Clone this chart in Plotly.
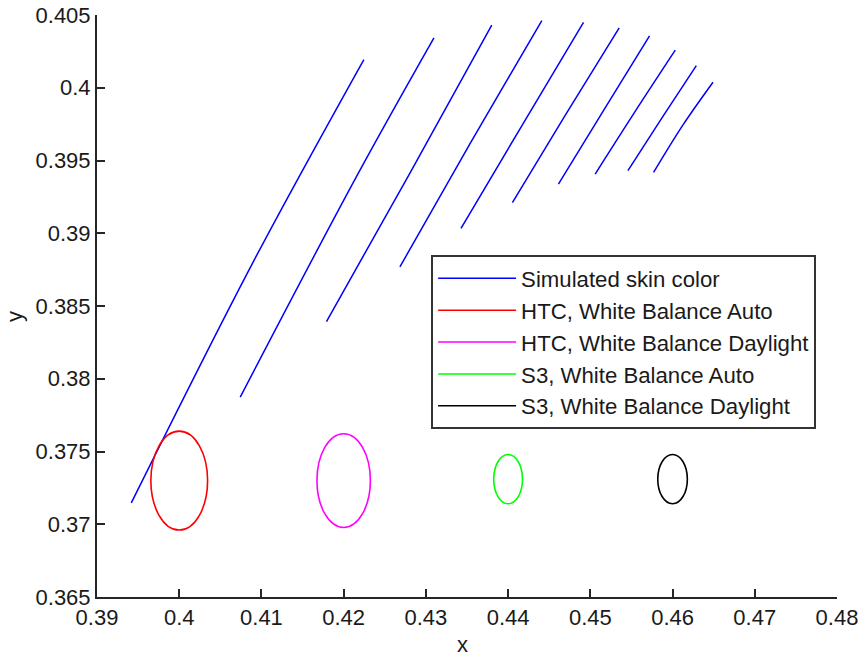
import plotly.graph_objects as go

# ---- data ----
# simulated skin color: 10 curve segments (x, y)
skin_x = [
    [0.39417, 0.40894, 0.42246],
    [0.40742, 0.42157, 0.43098],
    [0.41791, 0.42806, 0.43801],
    [0.42684, 0.43537, 0.44410],
    [0.43427, 0.44170, 0.44917],
    [0.44052, 0.44694, 0.45351],
    [0.44612, 0.45169, 0.45720],
    [0.45059, 0.45522, 0.46033],
    [0.45457, 0.45875, 0.46289],
    [0.45769, 0.46131, 0.46492],
]
skin_y = [
    [0.37147, 0.38797, 0.40194],
    [0.37874, 0.39391, 0.40343],
    [0.38393, 0.39414, 0.40430],
    [0.38769, 0.39616, 0.40462],
    [0.39033, 0.39742, 0.40450],
    [0.39210, 0.39810, 0.40412],
    [0.39338, 0.39852, 0.40356],
    [0.39407, 0.39817, 0.40258],
    [0.39430, 0.39797, 0.40152],
    [0.39418, 0.39748, 0.40038],
]

# camera measurement ellipses
ell_names = ["HTC, White Balance Auto", "HTC, White Balance Daylight",
             "S3, White Balance Auto", "S3, White Balance Daylight"]
ell_colors = ["#ff0000", "#ff00ff", "#00ff00", "#000000"]
ell_cx = [0.400, 0.420, 0.440, 0.460]
ell_cy = [0.3730, 0.3730, 0.3731, 0.3731]
ell_rx = [0.00345, 0.00325, 0.00175, 0.00180]
ell_ry = [0.00340, 0.00322, 0.00169, 0.00169]

x_ticks = [0.39, 0.40, 0.41, 0.42, 0.43, 0.44, 0.45, 0.46, 0.47, 0.48]
x_tick_text = ["0.39", "0.4", "0.41", "0.42", "0.43", "0.44", "0.45", "0.46", "0.47", "0.48"]
y_ticks = [0.365, 0.37, 0.375, 0.38, 0.385, 0.39, 0.395, 0.40, 0.405]
y_tick_text = ["0.365", "0.37", "0.375", "0.38", "0.385", "0.39", "0.395", "0.4", "0.405"]

FONT = "Liberation Sans, Arial, sans-serif"
AX = "#262626"
TXT = "#1a1a1a"

fig = go.Figure()
for i, (xs, ys) in enumerate(zip(skin_x, skin_y)):
    fig.add_trace(go.Scatter(
        x=xs, y=ys, mode="lines", line=dict(color="#0000ff", width=1.5),
        name="Simulated skin color", legendgroup="skin", showlegend=(i == 0),
        line_shape="spline", hoverinfo="skip"))

for name, col, cx, cy, rx, ry in zip(ell_names, ell_colors, ell_cx, ell_cy, ell_rx, ell_ry):
    fig.add_shape(type="circle", xref="x", yref="y",
                  x0=cx - rx, x1=cx + rx, y0=cy - ry, y1=cy + ry,
                  line=dict(color=col, width=1.6))
    fig.add_trace(go.Scatter(x=[None], y=[None], mode="lines",
                             line=dict(color=col, width=1.5), name=name))

fig.update_layout(
    width=858, height=659,
    margin=dict(l=97, r=21, t=15, b=62, autoexpand=False),
    paper_bgcolor="white", plot_bgcolor="white",
    font=dict(family=FONT, size=22, color=TXT),
    showlegend=True,
    legend=dict(x=0.4515, y=0.587, xanchor="left", yanchor="top",
                bgcolor="white", bordercolor="#333333", borderwidth=2,
                font=dict(family=FONT, size=22.2, color=TXT),
                itemwidth=78, tracegroupgap=0),
    annotations=[
        dict(text="x", xref="paper", yref="paper", x=0.4945, y=-0.1070,
             showarrow=False, xanchor="center", yanchor="bottom",
             font=dict(family=FONT, size=22, color=TXT)),
        dict(text="y", xref="paper", yref="paper", x=-0.1116, y=0.482,
             showarrow=False, xanchor="center", yanchor="middle", textangle=-90,
             font=dict(family=FONT, size=22, color=TXT)),
    ],
)
fig.update_xaxes(range=[0.39, 0.48], tickvals=x_ticks, ticktext=x_tick_text,
                 ticks="inside", ticklen=8, tickwidth=1.5, tickcolor=AX,
                 ticklabeloverflow="allow",
                 showline=True, linecolor=AX, linewidth=2, mirror=False,
                 showgrid=False, zeroline=False, automargin=False)
fig.update_yaxes(range=[0.365, 0.405], tickvals=y_ticks, ticktext=y_tick_text,
                 ticks="inside", ticklen=8, tickwidth=1.5, tickcolor=AX,
                 ticklabeloverflow="allow",
                 showline=True, linecolor=AX, linewidth=2, mirror=False,
                 showgrid=False, zeroline=False, automargin=False)

fig.write_html("out.html")
